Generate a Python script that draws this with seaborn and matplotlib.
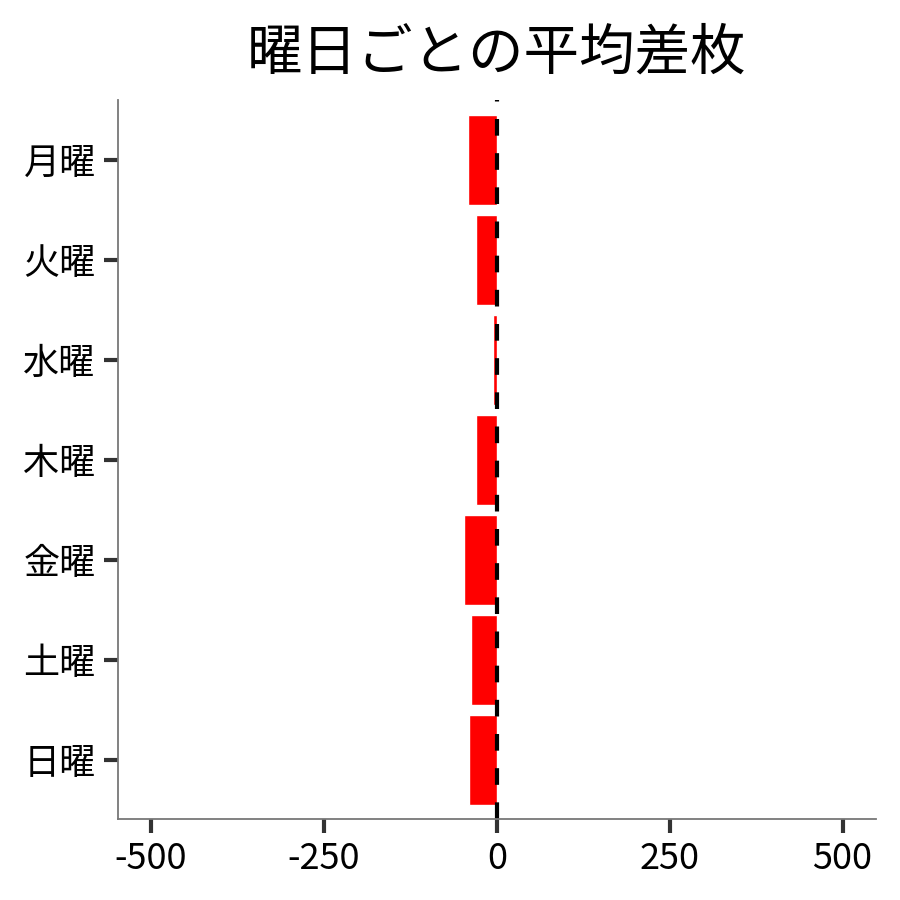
import matplotlib
matplotlib.use("Agg")
import matplotlib.pyplot as plt
import seaborn as sns
import pandas as pd

# 曜日ごとの平均差枚
days = ["月曜", "火曜", "水曜", "木曜", "金曜", "土曜", "日曜"]
avg_diff = [-42, -30, -5, -30, -48, -38, -40]

df = pd.DataFrame({"day": days, "diff": avg_diff})

sns.set_style("white")
plt.rcParams["font.family"] = ["Noto Sans CJK JP", "DejaVu Sans"]
plt.rcParams["axes.unicode_minus"] = False
plt.rcParams["text.color"] = "black"
plt.rcParams["xtick.labelcolor"] = "black"
plt.rcParams["ytick.labelcolor"] = "black"

fig = plt.figure(figsize=(9, 9), dpi=100)
ax = fig.add_axes([0.131, 0.09, 0.842, 0.799])

sns.barplot(data=df, y="day", x="diff", color="red", saturation=1,
            width=0.9, orient="h", ax=ax)

# zero line
ax.axvline(0, color="black", linewidth=3, linestyle=(0, (4, 4.2)))

ax.set_xlim(-548, 548)
ax.set_ylim(6.59, -0.6)
ax.set_xticks([-500, -250, 0, 250, 500])
ax.set_xlabel("")
ax.set_ylabel("")
ax.set_title("曜日ごとの平均差枚", fontsize=40, pad=22, color="black")

ax.tick_params(axis="both", labelsize=26, length=10, width=3,
               color="#333333", labelcolor="black", bottom=True, left=True, pad=6)
sns.despine(ax=ax)
for side in ["left", "bottom"]:
    ax.spines[side].set_color("#777777")
    ax.spines[side].set_linewidth(1.3)

fig.savefig("out.png", dpi=100)
